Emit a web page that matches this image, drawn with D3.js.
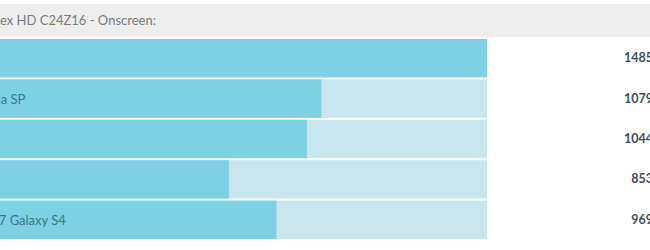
<!DOCTYPE html>
<html lang="en">
<head>
    <meta charset="UTF-8">
    <title>T-Rex HD Onscreen</title>
    <script src="https://cdn.jsdelivr.net/npm/d3@7/dist/d3.min.js"></script>
    <style>
        body { margin: 0; background: #fff; }
        text { font-family: Lato, "Open Sans", sans-serif; }
    </style>
</head>
<body>
<script>

    // data
    var title = "GFXBench 2.7 T-Rex HD C24Z16 - Onscreen:";
    var devices = ["LG G2", "Sony C5303 Xperia SP", "HTC One", "Google Nexus 4", "Samsung GT-I9507 Galaxy S4"];
    var scores = [1485, 1079, 1044, 853, 969];

    // canvas
    var width = 650;
    var height = 250;
    var svg = d3.select("body")
        .append("svg")
        .attr("width", width)
        .attr("height", height);

    // chart is cropped on the left, bars start off screen
    var x = d3.scaleLinear()
        .domain([0, d3.max(scores)])
        .range([-119, 487]);

    var y = d3.scaleBand()
        .domain(d3.range(devices.length))
        .range([39, 239])
        .paddingInner(0.05);

    // header
    svg.append("rect")
        .attr("x", 0)
        .attr("y", 4)
        .attr("width", width)
        .attr("height", 33)
        .style("fill", "#eeeeee");

    var head = svg.append("text")
        .attr("y", 25)
        .style("font-size", "13px")
        .style("fill", "#7a7a7a")
        .text(title);
    // header text starts off screen, the "ex" of T-Rex sits at the left edge
    var cut = title.indexOf("ex HD");
    head.attr("x", -head.node().getSubStringLength(0, cut));

    var rows = svg.selectAll("g.row")
        .data(scores)
        .enter()
        .append("g")
        .attr("class", "row");

    // background bar
    rows.append("rect")
        .attr("x", x(0))
        .attr("y", function (d, i) { return y(i); })
        .attr("width", x(d3.max(scores)) - x(0))
        .attr("height", y.bandwidth())
        .style("fill", "#c9e6ee");

    // value bar
    rows.append("rect")
        .attr("x", x(0))
        .attr("y", function (d, i) { return y(i); })
        .attr("width", function (d) { return x(d) - x(0); })
        .attr("height", y.bandwidth())
        .style("fill", "#7ed0e3");

    // device names
    rows.append("text")
        .attr("x", x(0) + 16)
        .attr("y", function (d, i) { return y(i) + y.bandwidth() / 2 + 5; })
        .style("font-size", "13px")
        .style("fill", "#3f7586")
        .text(function (d, i) { return devices[i]; });

    // scores
    rows.append("text")
        .attr("x", 653)
        .attr("y", function (d, i) { return y(i) + y.bandwidth() / 2 + 4; })
        .attr("text-anchor", "end")
        .style("font-size", "12.5px")
        .style("font-weight", "bold")
        .style("fill", "#3c4f5c")
        .text(function (d) { return d; });

</script>
</body>
</html>
